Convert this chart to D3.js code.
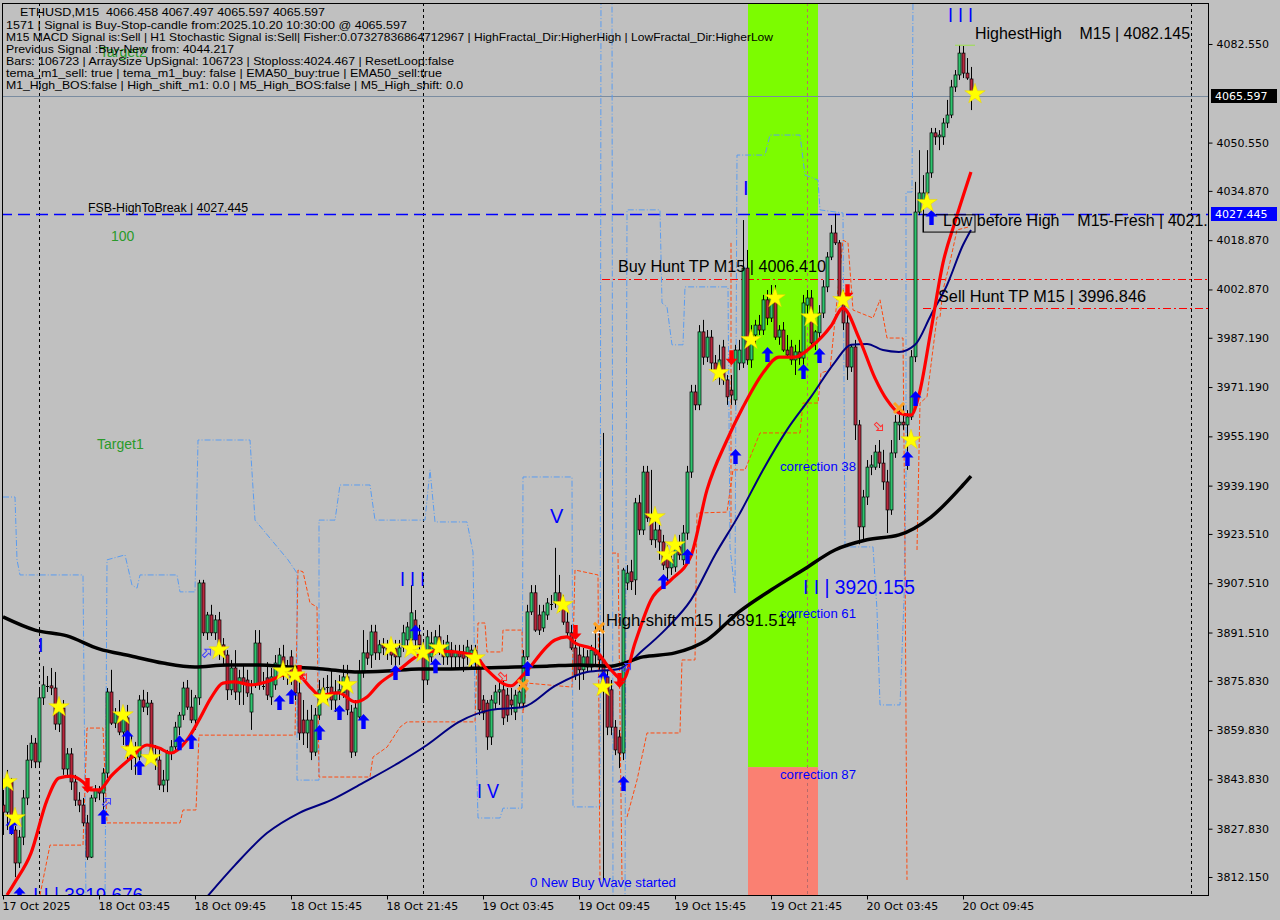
<!DOCTYPE html>
<html><head><meta charset="utf-8">
<script src="https://cdnjs.cloudflare.com/ajax/libs/d3/7.8.5/d3.min.js"></script>
<style>
html,body{margin:0;padding:0;background:#c0c0c0;}
svg{display:block;}
text{white-space:pre;}
</style></head><body>
<svg id="chart" width="1280" height="920"></svg>
<script>
// ---------------- DATA ----------------
const opens = [3835.5,3833.2,3843.0,3827.4,3816.7,3825.1,3837.8,3850.1,3855.6,3849.5,
3870.3,3874.5,3874.2,3873.5,3861.8,3867.0,3847.2,3852.1,3843.0,3837.1,
3835.5,3829.7,3818.6,3837.8,3840.4,3839.4,3845.9,3872.2,3862.1,3865.4,
3859.2,3863.8,3853.4,3850.8,3851.1,3869.6,3867.3,3868.6,3851.1,3850.1,
3842.0,3843.6,3852.4,3854.4,3860.8,3864.7,3873.5,3867.3,3863.1,3870.3,
3907.6,3891.4,3897.2,3891.4,3895.6,3887.5,3884.2,3872.9,3880.0,3872.2,
3876.8,3876.1,3865.7,3874.5,3888.1,3874.5,3876.8,3870.6,3874.5,3880.0,
3883.6,3878.4,3883.6,3876.8,3871.9,3863.1,3858.9,3863.1,3852.7,3864.7,
3872.9,3873.5,3873.8,3869.6,3872.2,3871.9,3877.1,3865.7,3852.7,3864.1,
3878.4,3884.9,3884.2,3891.7,3884.9,3887.5,3886.5,3886.8,3886.2,3883.6,
3886.8,3889.1,3889.1,3895.6,3890.7,3885.8,3876.1,3883.6,3885.8,3890.1,
3886.8,3883.6,3885.8,3883.6,3885.2,3885.2,3883.6,3883.6,3885.8,3882.6,
3869.6,3868.6,3857.6,3868.6,3872.2,3872.9,3871.2,3869.6,3865.7,3868.6,
3868.6,3883.6,3898.2,3904.4,3897.2,3893.0,3897.2,3900.5,3901.1,3904.4,
3901.1,3894.9,3891.4,3886.5,3884.2,3879.4,3883.6,3880.3,3885.8,3884.2,
3882.6,3877.1,3872.9,3860.8,3857.6,3852.4,3907.6,3911.2,3908.6,3933.6,
3924.8,3943.6,3928.7,3921.6,3924.8,3920.9,3917.3,3912.5,3912.8,3919.3,
3915.1,3923.8,3943.6,3969.6,3965.4,3989.1,3980.9,3987.4,3979.0,3976.1,
3984.2,3973.5,3970.2,3967.0,3979.0,3979.0,4009.8,3980.0,3988.1,3991.3,
3989.7,3999.5,3993.6,4001.1,3987.4,3989.7,3983.2,3984.2,3980.0,3982.6,
3980.6,3997.8,4000.1,3985.5,3988.8,3995.2,4003.7,4013.4,4021.2,4018.0,
4000.4,3992.0,3977.7,3984.2,3958.9,3925.8,3935.5,3945.2,3945.2,3950.1,
3946.5,3940.4,3931.3,3949.8,3958.9,3959.8,3958.9,3961.5,3981.0,4028.0,
4031.9,4034.2,4040.7,4053.7,4052.4,4052.4,4056.9,4059.5,4068.6,4072.5,
4079.6,4073.1,4071.2,4066.458];
const highs = [3840.4,3846.9,3844.3,3828.7,3827.4,3840.4,3855.0,3858.2,3857.3,3872.9,
3880.6,3877.4,3880.0,3878.7,3869.6,3869.6,3854.0,3854.0,3845.3,3839.7,
3837.8,3832.3,3838.8,3842.0,3841.7,3847.5,3873.5,3879.4,3867.0,3869.6,
3865.7,3868.0,3858.2,3856.0,3871.2,3872.9,3872.2,3869.6,3855.0,3853.4,
3846.9,3853.4,3856.6,3862.5,3865.7,3875.5,3876.1,3872.9,3871.2,3908.6,
3908.6,3898.2,3900.5,3897.2,3898.2,3889.7,3885.8,3882.6,3885.8,3879.4,
3881.0,3879.4,3876.1,3892.3,3892.3,3878.7,3881.9,3880.0,3884.2,3886.5,
3887.5,3882.6,3885.8,3881.0,3876.1,3869.6,3866.4,3868.0,3867.0,3876.1,
3876.8,3877.7,3879.4,3876.1,3877.7,3881.0,3881.0,3868.0,3869.6,3882.6,
3892.3,3889.1,3894.0,3894.0,3889.1,3889.7,3889.1,3889.1,3889.1,3889.1,
3894.0,3894.9,3906.9,3898.8,3894.0,3889.1,3892.3,3891.7,3892.3,3894.0,
3889.1,3890.7,3888.4,3887.5,3887.5,3887.5,3889.1,3887.5,3887.5,3884.2,
3871.2,3869.6,3871.2,3874.5,3875.5,3876.1,3873.5,3873.5,3872.9,3874.5,
3885.8,3900.5,3906.9,3906.9,3900.5,3900.5,3902.7,3903.7,3919.0,3910.2,
3903.7,3898.2,3894.0,3889.1,3887.5,3886.5,3885.8,3887.5,3894.0,3893.0,
3956.3,3879.4,3876.1,3863.1,3859.9,3912.5,3913.4,3915.1,3935.2,3936.2,
3945.6,3945.6,3944.3,3928.0,3926.4,3923.2,3919.9,3918.3,3921.6,3923.2,
3926.4,3945.6,3971.9,3971.9,3991.3,3993.0,3989.7,3989.7,3981.6,3984.9,
3986.5,3975.1,3975.1,3984.9,3986.5,4025.4,4015.7,3991.3,3993.0,3994.6,
4001.1,4002.7,4004.3,4004.3,3991.3,3992.3,3988.1,3986.5,3984.9,3986.5,
4001.1,4002.7,4002.7,3989.7,3997.8,4005.9,4015.0,4023.8,4027.445,4018.9,
4002.7,3995.2,3984.9,3986.5,3960.5,3937.8,3947.5,3949.1,3952.4,3954.0,
3950.8,3944.3,3954.0,3962.1,3963.7,3965.4,3963.7,3983.2,4037.8,4048.1,
4040.0,4048.1,4055.3,4055.3,4054.6,4058.5,4064.4,4070.9,4074.1,4082.145,
4081.9,4078.0,4075.1,4067.497];
const lows = [3825.8,3827.4,3825.8,3812.1,3815.1,3822.5,3835.5,3847.5,3847.5,3848.5,
3868.0,3872.2,3871.2,3859.9,3859.2,3845.3,3844.9,3840.4,3835.2,3833.2,
3828.7,3817.7,3818.3,3836.5,3837.1,3830.7,3844.3,3861.5,3860.5,3858.2,
3855.0,3850.1,3846.9,3845.3,3850.1,3865.7,3864.7,3850.1,3846.9,3840.4,
3839.7,3839.7,3850.1,3853.4,3858.2,3863.1,3866.4,3862.1,3859.9,3868.0,
3890.4,3889.1,3890.4,3889.1,3882.6,3881.0,3869.6,3871.2,3869.6,3868.0,
3868.0,3870.6,3859.9,3873.5,3872.9,3872.9,3869.6,3868.0,3872.9,3878.7,
3876.1,3874.5,3874.5,3869.6,3856.6,3855.0,3854.0,3850.1,3851.4,3863.1,
3869.6,3868.0,3866.4,3865.7,3869.6,3870.3,3864.7,3850.8,3851.4,3863.1,
3876.8,3881.0,3880.0,3882.6,3882.6,3884.2,3882.6,3881.0,3880.0,3881.0,
3885.2,3885.8,3887.5,3885.8,3884.2,3868.6,3874.5,3881.9,3884.2,3884.2,
3881.0,3881.0,3880.0,3880.0,3880.0,3878.7,3881.0,3880.0,3880.0,3864.7,
3863.1,3853.4,3855.0,3866.4,3868.0,3861.5,3862.5,3864.7,3863.1,3867.0,
3867.3,3882.6,3897.2,3891.7,3890.7,3891.7,3895.6,3898.8,3899.5,3898.2,
3894.0,3890.1,3885.8,3876.1,3872.9,3876.1,3878.7,3878.7,3881.0,3879.4,
3811.2,3858.2,3858.2,3851.7,3847.5,3850.1,3905.3,3905.3,3903.7,3923.2,
3923.2,3927.4,3919.9,3919.0,3915.1,3911.8,3906.9,3910.2,3911.2,3915.1,
3913.4,3921.6,3941.7,3963.7,3963.7,3978.4,3979.3,3976.7,3973.5,3971.9,
3971.9,3965.4,3965.4,3965.4,3976.7,3977.4,3978.4,3977.4,3984.9,3988.1,
3988.1,3991.3,3992.3,3986.5,3984.9,3982.6,3980.6,3978.4,3975.1,3978.4,
3978.4,3994.6,3984.9,3983.2,3987.1,3993.6,4002.0,4012.4,4017.3,3999.5,
3989.7,3973.5,3976.1,3954.0,3920.155,3921.0,3932.9,3942.6,3944.3,3944.9,
3937.8,3923.8,3929.7,3948.2,3954.0,3957.3,3944.3,3960.5,3979.3,4027.0,
4021.5,4032.6,4039.1,4049.8,4048.1,4049.8,4055.3,4058.5,4067.0,4070.9,
4071.5,4070.9,4061.1,4065.597];
const closes = [3833.2,3843.0,3827.4,3816.7,3825.1,3837.8,3850.1,3855.6,3849.5,3870.3,
3874.5,3874.2,3873.5,3861.8,3867.0,3847.2,3852.1,3843.0,3837.1,3835.5,
3829.7,3818.6,3837.8,3840.4,3839.4,3845.9,3872.2,3862.1,3865.4,3859.2,
3863.8,3853.4,3850.8,3851.1,3869.6,3867.3,3868.6,3851.1,3850.1,3842.0,
3843.6,3852.4,3854.4,3860.8,3864.7,3873.5,3867.3,3863.1,3870.3,3907.6,
3891.4,3897.2,3891.4,3895.6,3887.5,3884.2,3872.9,3880.0,3872.2,3876.8,
3875.1,3871.9,3871.6,3888.1,3874.5,3874.2,3871.2,3877.1,3881.6,3884.2,
3878.4,3880.0,3876.8,3871.9,3858.9,3858.9,3863.1,3852.7,3864.7,3872.9,
3873.5,3873.8,3869.6,3872.2,3872.9,3877.1,3866.4,3852.7,3867.0,3878.4,
3884.9,3883.2,3891.7,3884.9,3887.5,3886.5,3885.8,3884.2,3883.6,3886.5,
3891.4,3893.3,3897.9,3889.1,3887.5,3876.1,3890.1,3888.1,3890.1,3885.2,
3883.6,3888.4,3883.6,3885.2,3883.6,3883.2,3886.8,3885.8,3882.6,3866.4,
3865.4,3857.6,3869.6,3872.2,3872.9,3863.8,3864.7,3868.0,3871.2,3872.2,
3883.6,3898.2,3904.4,3892.3,3892.3,3898.2,3901.1,3900.8,3904.4,3901.1,
3894.9,3891.4,3886.5,3877.7,3879.4,3883.6,3880.3,3885.8,3884.2,3882.6,
3877.1,3860.8,3860.8,3853.4,3852.4,3911.8,3910.8,3908.0,3933.6,3924.8,
3943.6,3928.7,3921.6,3924.8,3920.9,3913.4,3912.5,3915.1,3919.3,3916.7,
3923.8,3943.6,3969.6,3965.4,3989.1,3980.9,3987.4,3979.0,3976.1,3980.0,
3973.5,3968.0,3968.6,3983.2,3983.2,4009.8,3980.0,3988.1,3991.3,3989.7,
3999.5,3993.6,4001.1,3987.4,3989.7,3983.2,3981.6,3980.0,3982.6,3980.6,
3998.5,4000.1,3985.5,3989.1,3995.2,4003.7,4013.4,4021.2,4018.0,4000.4,
3992.0,3977.7,3984.2,3958.9,3925.8,3935.5,3945.2,3945.9,3950.1,3946.5,
3940.4,3931.3,3949.8,3959.8,3959.8,3958.9,3961.5,3981.0,4028.0,4034.2,
4034.2,4040.7,4053.7,4052.4,4053.0,4056.9,4059.5,4068.6,4072.5,4079.6,
4073.1,4071.5,4066.5,4065.597];

const timeTickIdx = [0,24,48,72,96,120,144,168,192,216,240];
const timeLabels = ["17 Oct 2025","18 Oct 03:45","18 Oct 09:45","18 Oct 15:45","18 Oct 21:45","19 Oct 03:45","19 Oct 09:45","19 Oct 15:45","19 Oct 21:45","20 Oct 03:45","20 Oct 09:45"];
const priceTicks = [4082.550,4050.550,4034.870,4018.870,4002.870,3987.190,3971.190,3955.190,3939.190,3923.510,3907.510,3891.510,3875.830,3859.830,3843.830,3827.830,3812.150];

// moving averages: [bar index, price]
const blackMA = [[0,3896.6],[8,3892.3],[16,3890.4],[24,3886.2],[32,3883.9],[40,3881.6],[48,3880.3],[56,3881.0],[64,3881.0],[72,3880.3],[80,3879.7],[88,3878.7],[96,3879.0],[104,3879.7],[112,3879.7],[120,3880.0],[128,3880.3],[136,3880.6],[144,3881.0],[152,3880.6],[160,3883.6],[168,3884.9],[176,3889.1],[184,3898.2],[192,3905.3],[200,3911.8],[208,3918.3],[216,3921.6],[224,3923.2],[232,3929.0],[240,3939.4],[242,3942.3]];
const navyMA = [[51,3805.7],[58,3816.0],[66,3826.4],[74,3832.9],[82,3837.1],[90,3842.7],[98,3848.5],[106,3855.0],[114,3862.5],[122,3866.4],[130,3867.3],[138,3874.2],[146,3878.7],[154,3879.7],[160,3885.8],[166,3893.0],[172,3902.1],[178,3916.7],[184,3929.7],[190,3944.3],[196,3957.3],[202,3968.0],[208,3979.3],[212,3984.9],[216,3985.2],[220,3983.2],[224,3982.6],[228,3984.9],[232,3994.6],[236,4004.3],[240,4017.3],[242,4022.2]];
const redMA = [[1,3806.3],[3,3810.5],[7,3819.9],[11,3837.1],[14,3844.3],[17,3844.9],[20,3843.0],[22,3840.4],[24,3840.4],[27,3844.9],[32,3850.8],[36,3855.0],[39,3854.0],[42,3852.4],[46,3856.6],[49,3863.1],[52,3870.3],[55,3875.1],[58,3875.5],[62,3874.5],[66,3875.5],[70,3877.7],[73,3878.4],[77,3873.5],[79,3871.2],[84,3871.9],[88,3869.0],[91,3870.6],[94,3874.8],[99,3879.4],[104,3884.2],[108,3885.5],[113,3885.2],[118,3883.9],[121,3879.4],[127,3874.2],[130,3877.7],[138,3889.1],[141,3890.1],[143,3888.1],[148,3885.8],[152,3879.4],[155,3876.1],[158,3888.1],[162,3902.1],[167,3908.6],[172,3916.4],[176,3937.8],[181,3954.0],[185,3964.7],[190,3975.8],[194,3980.9],[198,3980.9],[202,3984.2],[207,3991.0],[210,3996.8],[214,3987.1],[218,3974.1],[221,3967.0],[224,3962.8],[227,3962.1],[229,3968.6],[232,3989.7],[235,4011.5],[238,4024.8],[242,4041.0]];

// step envelopes [bar index, price]
const blueBand = [[0,3935.5],[3,3935.5],[3.5,3915.1],[4.25,3910.2],[20,3910.2],[20.75,3803.1],[25.5,3803.1],[26,3915.1],[30.5,3916.7],[32.25,3906.9],[33.5,3905.9],[34.25,3910.2],[43.5,3910.2],[44.25,3904.7],[48,3904.7],[48.75,3954.0],[61.75,3954.0],[63,3928.0],[71.25,3915.1],[73.5,3910.8],[73.5,3843.6],[79,3843.6],[79,3928.0],[83,3928.0],[84.25,3939.4],[91.75,3939.4],[93,3928.0],[105.5,3928.0],[106.75,3944.3],[108,3927.4],[116,3927.4],[117.5,3917.6],[118,3868.6],[118.75,3831.3],[124.25,3831.3],[125,3834.5],[129.75,3834.5],[130,3942.0],[142.25,3942.0],[142.5,3834.9],[149.25,3834.9],[149.5,4098.5],[152.25,4098.5],[152.5,3803.1],[155.5,3803.1],[156,4028.7],[164.25,4028.7],[164.75,3998.5],[166,3997.2],[167.25,3984.9],[170,3984.9],[170.5,4003.7],[181.25,4003.7],[181.75,3919.3],[183,3904.4],[183.5,4046.5],[190.5,4046.5],[191.75,4053.0],[199.25,4053.0],[200.5,4040.0],[203.75,4038.4],[204.25,4028.7],[210,4027.7],[210.5,3919.3],[217.5,3919.3],[218.5,3898.8],[219.25,3868.0],[224.25,3868.0],[225.25,3902.1],[225.75,3941.0],[225.75,4034.5],[227.25,4034.5],[227.5,4098.5]];
const orangeBand1 = [[9.25,3806.3],[11.75,3822.5],[20,3822.5],[21,3860.5],[25,3860.5],[26,3829.7],[44.25,3829.7],[45,3833.9],[48.25,3833.9],[49,3858.2],[73,3858.2],[73.75,3911.8],[75,3911.2],[76.75,3901.1],[78.5,3899.8],[79,3844.6],[91.75,3844.6],[92.5,3851.1],[96,3854.3],[99.25,3860.8],[101,3862.5],[118,3862.5],[118.75,3894.6],[120.5,3894.6],[121,3885.2],[124.75,3885.2],[125,3892.3],[129.75,3892.3],[130,3865.4],[131,3875.1],[142.25,3873.8],[143,3911.8],[148.75,3910.2],[149.25,3811.2]];
const orangeBand2 = [[152.25,3917.3],[153.75,3917.3],[154.75,3811.2]];
const orangeBand3 = [[156,3831.6],[158.5,3843.6],[161,3858.9],[169.25,3858.9],[169.75,3882.6],[173,3882.6],[173.5,3930.3],[181,3930.6],[182.5,3944.3],[185.5,3944.3],[189.25,3956.3],[199.25,3956.3],[200,3966.0],[203.75,3966.0],[204.5,3975.8],[206.75,3976.7],[210,4018.9],[211.25,4018.0],[212.5,3996.2],[217.5,3993.6],[219.25,3999.5],[221,3987.1],[225,3987.1],[225.5,3918.3],[226,3811.2]];
const orangeBand4 = [[228.5,3918.3],[229.25,3966.0],[231,3968.0],[233.5,3993.9],[234.25,3993.9],[235,4002.7],[236.75,4011.7],[238.5,4022.2],[241.25,4023.1]];
const orangeBand5 = [[182,4018.0],[182,3924.8]];

// signal markers [bar index, price]
const stars = [[1,3843.0],[3,3831.3],[14,3867.3],[30,3864.7],[32,3853.4],[37,3850.8],[54,3885.8],[70,3879.0],[73,3877.7],[80,3870.3],[86,3874.5],[97,3886.8],[102,3886.2],[105,3884.9],[109,3886.5],[118,3883.2],[140,3900.5],[150,3873.8],[163,3929.0],[166,3916.7],[168,3919.9],[179,3975.8],[187,3986.5],[193,4000.1],[202,3993.9],[210,3999.5],[227,3954.0],[231,4031.0],[243,4066.3]];
const buyArrows = [[2,3828.4],[4,3806.3],[25,3831.6],[31,3857.3],[34,3847.5],[44,3855.6],[47,3856.0],[69,3868.6],[72,3870.6],[79,3858.9],[84,3865.4],[90,3862.5],[98,3878.4],[103,3891.4],[108,3880.6],[131,3879.7],[150,3876.4],[155,3842.3],[165,3907.9],[171,3916.1],[183,3948.5],[191,3981.6],[200,3976.1],[204,3981.3],[226,3947.8],[228,3967.3],[232,4026.1]];
const sellArrows = [[21,3842.0],[74,3878.7],[143,3891.7],[154,3876.1],[182,3980.9],[211,4002.3]];
const buyHollow = [[26,3836.5],[51,3884.9],[156,3880.3]];
const sellHollow = [[75,3877.4],[125,3877.1],[219,3958.2]];
const crossMarks = [[130,3874.5],[149,3893.0],[224,3964.4]];

// levels
const bidPrice = 4065.597;
const fsbHigh = 4027.445;
const buyHuntTP = 4006.410;
const sellHuntTP = 3996.846;
const highestHigh = 4082.145;
const highShift = 3891.514;
const lowBeforeHighBox = [230, 243, 4027.1, 4021.5];
const daySeparators = [9, 105, 201, 297];
const correctionZone = [186.25, 203.75];
const correction87 = 3847.8;

const infoLines = [
 ["ETHUSD,M15  4066.458 4067.497 4065.597 4065.597", 20, 16, 305],
 ["1571 | Signal is Buy-Stop-candle from:2025.10.20 10:30:00 @ 4065.597", 6, 29, 401],
 ["M15 MACD Signal is:Sell | H1 Stochastic Signal is:Sell| Fisher:0.07327836864712967 | HighFractal_Dir:HigherHigh | LowFractal_Dir:HigherLow", 6, 41, 767],
 ["Previous Signal :Buy-New from: 4044.217", 6, 53, 228],
 ["Bars: 106723 | ArraySize UpSignal: 106723 | Stoploss:4024.467 | ResetLoop:false", 6, 65, 448],
 ["tema_m1_sell: true | tema_m1_buy: false | EMA50_buy:true | EMA50_sell:true", 6, 77, 436],
 ["M1_High_BOS:false | High_shift_m1: 0.0 | M5_High_BOS:false | M5_High_shift: 0.0", 6, 89, 457]
];
// annotations: text, bar index, price (baseline), size, color, width (0 = natural)
const annotations = [
 ["FSB-HighToBreak | 4027.445", 21.25, 4028.0, 12, "#000", 160],
 ["Buy Hunt TP M15 | 4006.410", 153.75, 4008.5, 16, "#000", 208],
 ["Sell Hunt TP M15 | 3996.846", 233.75, 3998.8, 16, "#000", 208],
 ["HighestHigh    M15 | 4082.145", 243, 4084.2, 16, "#000", 215],
 ["Low before High    M15-Fresh | 4021.531", 235, 4023.5, 16, "#000", 0],
 ["High-shift m15 | 3891.514", 150.75, 3893.6, 16, "#000", 190],
 ["correction 38", 194.25, 3943.9, 12, "#0000ff", 76],
 ["correction 61", 194.25, 3896.2, 12, "#0000ff", 76],
 ["correction 87", 194.25, 3844.0, 12, "#0000ff", 76],
 ["I I | 3920.155", 200, 3904.0, 20, "#0000ff", 112],
 ["I I I", 236.25, 4089.7, 20, "#0000ff", 25],
 ["I", 185, 4033.5, 20, "#0000ff", 0],
 ["I", 8.75, 3885.2, 20, "#0000ff", 0],
 ["I I I", 99.25, 3906.6, 20, "#0000ff", 25],
 ["V", 136.75, 3927.1, 20, "#0000ff", 0],
 ["I V", 118.5, 3837.8, 20, "#0000ff", 22],
 ["I I | 3819.676", 7.5, 3804.0, 20, "#0000ff", 110],
 ["0 New Buy Wave started", 131.75, 3808.9, 12, "#0000ff", 146],
 ["100", 27, 4018.6, 14, "#2a9a2a", 0],
 ["Target1", 23.5, 3951.1, 14, "#2a9a2a", 0],
 ["Target2", 24.25, 4078.3, 14, "#2a9a2a", 0]
];

// ---------------- DRAW ----------------
const svg = d3.select("#chart");
const plotR = 1208, plotB = 895, plotT = 3;
const x = d3.scaleLinear().domain([-0.75, 301.25]).range([0, 1208]);
const y = d3.scaleLinear().domain([3806.305, 4095.859]).range([895, 3]);

svg.append("rect").attr("width",1280).attr("height",920).attr("fill","#c0c0c0");
svg.append("defs").append("clipPath").attr("id","clip")
  .append("rect").attr("x",2).attr("y",plotT).attr("width",plotR-2).attr("height",plotB-plotT);

const g = svg.append("g").attr("clip-path","url(#clip)");

// correction zone
g.append("rect").attr("x",x(correctionZone[0])).attr("width",x(correctionZone[1])-x(correctionZone[0]))
  .attr("y",plotT).attr("height",y(correction87)-plotT).attr("fill","#7cfc00");
g.append("rect").attr("x",x(correctionZone[0])).attr("width",x(correctionZone[1])-x(correctionZone[0]))
  .attr("y",y(correction87)).attr("height",plotB-y(correction87)).attr("fill","#fa8072");

// day separators
daySeparators.forEach((d,k)=>{
  g.append("line").attr("x1",x(d)+0.5).attr("x2",x(d)+0.5).attr("y1",plotT).attr("y2",plotB)
   .attr("stroke", k===2 ? "#b86a6a" : "#000").attr("stroke-width",1).attr("stroke-dasharray","3,3");
});

// horizontal levels
g.append("line").attr("x1",0).attr("x2",plotR).attr("y1",Math.round(y(bidPrice))+0.5).attr("y2",Math.round(y(bidPrice))+0.5)
  .attr("stroke","#7a8ca0").attr("stroke-width",1);
g.append("line").attr("x1",0).attr("x2",plotR).attr("y1",Math.round(y(fsbHigh))+0.5).attr("y2",Math.round(y(fsbHigh))+0.5)
  .attr("stroke","#0000ff").attr("stroke-width",1.3).attr("stroke-dasharray","12,6");
g.append("line").attr("x1",x(149.75)).attr("x2",plotR).attr("y1",Math.round(y(buyHuntTP))+0.5).attr("y2",Math.round(y(buyHuntTP))+0.5)
  .attr("stroke","#ff0000").attr("stroke-width",1).attr("stroke-dasharray","8,3,2,3");
g.append("line").attr("x1",x(230)).attr("x2",plotR).attr("y1",Math.round(y(sellHuntTP))+0.5).attr("y2",Math.round(y(sellHuntTP))+0.5)
  .attr("stroke","#ff0000").attr("stroke-width",1).attr("stroke-dasharray","8,3,2,3");

// envelopes
const stepLine = d3.line().x(d=>x(d[0])).y(d=>y(d[1]));
g.append("path").attr("d",stepLine(blueBand)).attr("fill","none").attr("stroke","#5a9cf0").attr("stroke-width",1).attr("stroke-dasharray","6,2,1,2");
[orangeBand1,orangeBand2,orangeBand3,orangeBand4,orangeBand5].forEach(b=>{
  g.append("path").attr("d",stepLine(b)).attr("fill","none").attr("stroke","#ff4a10").attr("stroke-width",1).attr("stroke-dasharray","4,2");
});

// candles
const bars = g.append("g");
opens.forEach((o,i)=>{
  const cx = Math.round(x(i));
  const c = closes[i];
  bars.append("line").attr("x1",cx+0.5).attr("x2",cx+0.5).attr("y1",y(highs[i])).attr("y2",y(lows[i]))
    .attr("stroke","#000").attr("stroke-width",1);
  const top = Math.min(y(o),y(c)), h = Math.abs(y(o)-y(c));
  if (h < 1.2) {
    bars.append("line").attr("x1",cx-1).attr("x2",cx+2).attr("y1",Math.round(y(c))+0.5).attr("y2",Math.round(y(c))+0.5).attr("stroke","#000");
  } else {
    bars.append("rect").attr("x",cx-1).attr("y",top).attr("width",3).attr("height",h)
      .attr("fill", c >= o ? "#2ec46e" : "#b8283e").attr("stroke","#000").attr("stroke-width",0.7);
  }
});

// moving averages
const maLine = d3.line().x(d=>x(d[0])).y(d=>y(d[1])).curve(d3.curveMonotoneX);
g.append("path").attr("d",maLine(navyMA)).attr("fill","none").attr("stroke","#000080").attr("stroke-width",2);
g.append("path").attr("d",maLine(blackMA)).attr("fill","none").attr("stroke","#000").attr("stroke-width",3.5);
g.append("path").attr("d",maLine(redMA)).attr("fill","none").attr("stroke","#ff0000").attr("stroke-width",3.2);

// small level marks
g.append("line").attr("x1",x(238)).attr("x2",x(243)).attr("y1",y(highestHigh)).attr("y2",y(highestHigh)).attr("stroke","#9ae04a").attr("stroke-width",1);
g.append("line").attr("x1",x(147.25)).attr("x2",x(150.5)).attr("y1",y(highShift)).attr("y2",y(highShift)).attr("stroke","#fff").attr("stroke-width",1.5);
g.append("rect").attr("x",x(lowBeforeHighBox[0])).attr("y",y(lowBeforeHighBox[2]))
  .attr("width",x(lowBeforeHighBox[1])-x(lowBeforeHighBox[0])).attr("height",y(lowBeforeHighBox[3])-y(lowBeforeHighBox[2]))
  .attr("fill","none").attr("stroke","#000").attr("stroke-width",1);

// markers
const upArrow = "M0,-8L6,-1.5L2.2,-1.5L2.2,7L-2.2,7L-2.2,-1.5L-6,-1.5Z";
const downArrow = "M0,8L6,1.5L2.2,1.5L2.2,-7L-2.2,-7L-2.2,1.5L-6,1.5Z";
const hollow = "M0,-5L4,-1L1.5,-1L1.5,5L-1.5,5L-1.5,-1L-4,-1Z";
buyArrows.forEach(d=>g.append("path").attr("d",upArrow).attr("transform",`translate(${x(d[0])+0.5},${y(d[1])})`).attr("fill","#0000ff"));
sellArrows.forEach(d=>g.append("path").attr("d",downArrow).attr("transform",`translate(${x(d[0])+0.5},${y(d[1])})`).attr("fill","#ff0000"));
buyHollow.forEach(d=>g.append("path").attr("d",hollow).attr("transform",`translate(${x(d[0])},${y(d[1])}) rotate(45)`).attr("fill","none").attr("stroke","#4040ff").attr("stroke-width",1));
sellHollow.forEach(d=>g.append("path").attr("d",hollow).attr("transform",`translate(${x(d[0])},${y(d[1])}) rotate(135)`).attr("fill","none").attr("stroke","#ff3030").attr("stroke-width",1));
crossMarks.forEach(d=>g.append("path").attr("d","M-5,-5L5,5M5,-5L-5,5").attr("transform",`translate(${x(d[0])},${y(d[1])})`).attr("stroke","#ffa020").attr("stroke-width",3));
const star = d3.symbol().type(d3.symbolStar).size(130);
stars.forEach(d=>g.append("path").attr("d",star()).attr("transform",`translate(${x(d[0])},${y(d[1])})`).attr("fill","#ffff00").attr("stroke","#e8d000").attr("stroke-width",0.5));

// annotations
annotations.forEach(a=>{
  const t = g.append("text").attr("x",x(a[1])).attr("y",y(a[2])).text(a[0])
    .attr("font-family","Liberation Sans, Arial, sans-serif").attr("font-size",a[3]).attr("fill",a[4]);
  if (a[5] > 0) t.attr("textLength",a[5]).attr("lengthAdjust","spacingAndGlyphs");
});

// info text
infoLines.forEach(l=>{
  svg.append("text").attr("x",l[1]).attr("y",l[2]).text(l[0]).attr("font-family","Liberation Sans, Arial, sans-serif")
    .attr("font-size",11.5).attr("fill","#000").attr("textLength",l[3]).attr("lengthAdjust","spacingAndGlyphs");
});

// frame
svg.append("rect").attr("x",2.5).attr("y",plotT+0.5).attr("width",plotR-2).attr("height",plotB-plotT).attr("fill","none").attr("stroke","#000").attr("stroke-width",1);

// axes
const yAxis = d3.axisRight(y).tickValues(priceTicks).tickFormat(d3.format(".3f")).tickSize(4).tickPadding(4);
const ya = svg.append("g").attr("transform",`translate(${plotR+0.5},0)`).call(yAxis);
ya.select(".domain").remove();
ya.selectAll("text").attr("font-family","DejaVu Sans, sans-serif").attr("font-size",11).attr("fill","#000");
ya.selectAll("line").attr("stroke","#000");

const xAxis = d3.axisBottom(x).tickValues(timeTickIdx).tickFormat((d,k)=>timeLabels[k]).tickSize(4).tickPadding(3);
const xa = svg.append("g").attr("transform",`translate(0,${plotB+0.5})`).call(xAxis);
xa.select(".domain").remove();
xa.selectAll("text").attr("font-family","DejaVu Sans, sans-serif").attr("font-size",11).attr("fill","#000").attr("text-anchor","start").attr("dx",-1);
xa.selectAll("line").attr("stroke","#000");

// price boxes
[[bidPrice,"#000"],[fsbHigh,"#0000ff"]].forEach(b=>{
  const yy = Math.round(y(b[0]));
  svg.append("rect").attr("x",plotR+3).attr("y",yy-7).attr("width",66).attr("height",14).attr("fill",b[1]);
  svg.append("text").attr("x",plotR+7).attr("y",yy+4).text(d3.format(".3f")(b[0]))
    .attr("font-family","DejaVu Sans, sans-serif").attr("font-size",11).attr("fill","#fff");
});
</script>
</body></html>
